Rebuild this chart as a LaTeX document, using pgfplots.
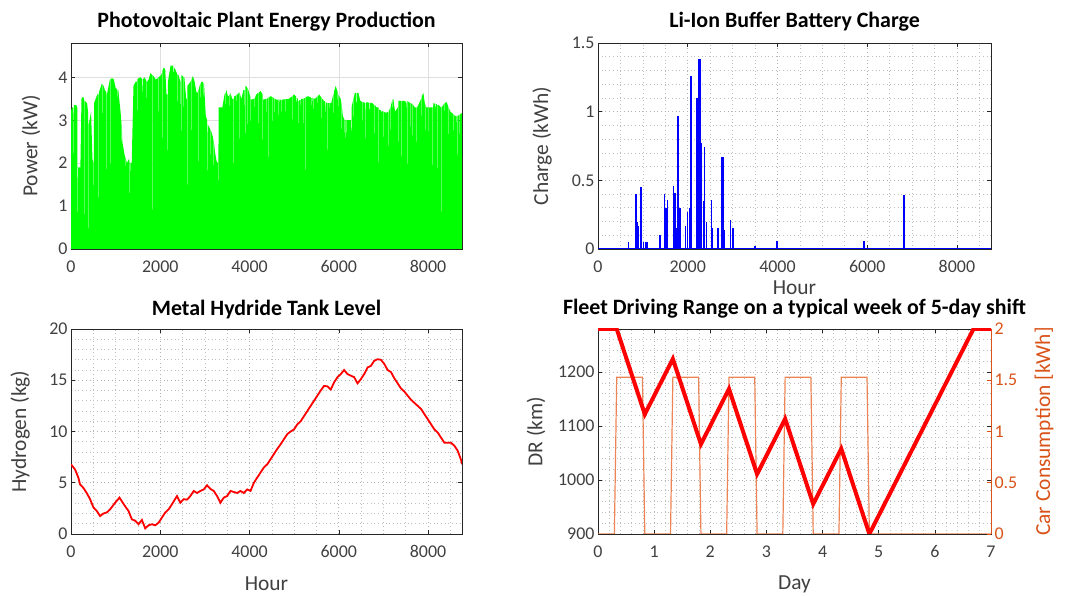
\documentclass[border=0pt]{standalone}
\usepackage{fontspec}
\setmainfont{Carlito}
\usepackage{pgfplots}
\pgfplotsset{compat=1.18}

\definecolor{axgray}{HTML}{262626}
\definecolor{txtgray}{HTML}{404040}
\definecolor{mlorange}{HTML}{D95319}
\definecolor{pulseorange}{HTML}{EC8455}
\definecolor{pvgreen}{HTML}{00FF00}

\pgfplotsset{
  matfig/.style={
    scale only axis,
    width=391bp, height=206bp,
    axis line style={axgray, line width=0.9bp},
    tick style={axgray, line width=0.6bp},
    major tick length=4bp,
    minor tick length=0pt,
    tick align=inside,
    ticklabel style={font=\fontsize{18}{20}\selectfont, text=txtgray},
    xticklabel shift=8bp,
    label style={font=\fontsize{21.5}{23}\selectfont, text=txtgray},
    title style={font=\bfseries\fontsize{22}{24}\selectfont, text=black, anchor=center},
    /pgf/number format/assume math mode=true,
    /pgf/number format/1000 sep={},
    scaled ticks=false,
  },
  dotgrid/.style={
    grid=both,
    major grid style={gray!60, line width=0.7bp, dash pattern=on 0.7bp off 3bp},
    minor grid style={gray!50, line width=0.7bp, dash pattern=on 0.7bp off 3bp},
  },
}

\begin{document}
\begin{tikzpicture}
\useasboundingbox (0,0) rectangle (1068bp,596bp);

% ---- PV production
\begin{axis}[matfig, at={(71bp,347bp)}, anchor=south west,
  xmin=0, xmax=8760, ymin=0, ymax=4.8,
  xtick={0,2000,...,8000}, ytick={0,1,2,3,4},
  grid=major, major grid style={gray!25, line width=0.6bp},
  ylabel={Power (kW)},
  ylabel style={at={(axis description cs:-0.102,0.5)}, anchor=center},
  title={Photovoltaic Plant Energy Production},
  title style={at={(axis description cs:0.5,1.075)}}]
\addplot[draw=none, fill=pvgreen] coordinates {
(0,3.22) (30,3.3) (48,3.3) (52,1.5) (58,1.5) (62,3.35) (120,3.35) (140,3.3) (146,0.7) (152,0.7) (158,1.9) (210,1.9)
(235,3.5) (270,3.55) (292,3.5) (296,0.5) (302,0.5) (306,3.45) (360,3.4) (382,3.2) (386,0.45) (392,0.45) (396,2.9)
(450,3.2) (480,2.1) (502,2.0) (506,1.0) (512,1.0) (516,3.4) (590,3.6) (612,3.6) (616,1.2) (622,1.2) (626,3.65)
(690,3.85) (694,2.4) (698,2.4) (702,3.85) (730,3.8) (760,3.7) (792,3.65) (796,1.5) (802,1.5) (806,3.6) (870,3.95)
(874,1.0) (878,1.0) (882,3.95) (920,3.98) (960,3.95) (1000,3.75) (1036,3.72) (1040,2.6) (1044,2.6) (1048,3.72)
(1060,3.7) (1110,3.2) (1126,3.0) (1130,1.4) (1134,1.4) (1138,2.9) (1150,2.5) (1200,2.2) (1226,2.1) (1230,1.1)
(1234,1.1) (1238,2.1) (1250,2.0) (1300,2.1) (1314,2.0) (1318,0.75) (1324,0.75) (1328,2.0) (1360,2.0) (1400,3.8)
(1450,3.9) (1476,3.9) (1480,2.9) (1484,2.9) (1488,3.95) (1500,3.97) (1560,4.0) (1596,3.95) (1600,1.8) (1604,1.8)
(1608,3.95) (1650,4.0) (1696,3.9) (1700,2.5) (1704,2.5) (1708,3.9) (1740,3.95) (1780,4.1) (1822,4.05) (1826,0.85)
(1832,0.85) (1836,4.05) (1900,3.95) (1946,3.98) (1950,3.0) (1954,3.0) (1958,4.0) (2020,4.05) (2036,4.1) (2040,1.9)
(2044,1.9) (2048,4.15) (2070,4.22) (2110,4.2) (2140,3.6) (2158,3.6) (2162,2.3) (2168,2.3) (2172,3.9) (2230,4.27)
(2280,4.27) (2296,4.24) (2300,3.2) (2304,3.2) (2308,4.22) (2330,4.2) (2370,4.1) (2376,4.08) (2380,2.8) (2384,2.8)
(2388,4.07) (2410,4.05) (2450,3.9) (2458,3.9) (2462,1.4) (2468,1.4) (2472,4.05) (2516,4.02) (2520,2.6) (2524,2.6)
(2528,4.0) (2540,4.0) (2580,3.5) (2594,3.5) (2598,1.2) (2604,1.2) (2608,3.8) (2680,3.9) (2696,3.95) (2700,2.2)
(2704,2.2) (2708,3.97) (2730,4.03) (2770,3.9) (2810,3.65) (2842,3.65) (2846,1.7) (2852,1.7) (2856,3.7) (2896,3.85)
(2900,2.6) (2904,2.6) (2908,3.88) (2940,3.9) (2956,3.88) (2960,3.0) (2964,3.0) (2968,3.87) (2980,3.85) (3020,3.1)
(3052,3.0) (3056,1.0) (3062,1.0) (3066,2.9) (3116,2.8) (3120,1.9) (3124,1.9) (3128,2.78) (3140,2.75) (3180,2.6)
(3196,2.5) (3200,1.5) (3204,1.5) (3208,2.45) (3220,2.3) (3260,2.05) (3292,2.0) (3296,0.85) (3302,0.85) (3306,3.3)
(3390,3.3) (3440,3.6) (3466,3.65) (3470,2.6) (3474,2.6) (3478,3.7) (3480,3.7) (3520,3.55) (3556,3.6) (3560,1.9)
(3564,1.9) (3568,3.65) (3570,3.65) (3610,3.5) (3642,3.5) (3646,2.0) (3652,2.0) (3656,3.55) (3696,3.58) (3700,2.8)
(3704,2.8) (3708,3.6) (3730,3.6) (3770,3.65) (3776,3.62) (3780,1.2) (3784,1.2) (3788,3.6) (3820,3.5) (3860,3.7)
(3892,3.7) (3896,1.7) (3902,1.7) (3906,3.8) (3946,3.77) (3950,2.5) (3954,2.5) (3958,3.75) (3960,3.75) (4016,3.55)
(4020,1.1) (4024,1.1) (4028,3.5) (4040,3.48) (4100,3.5) (4116,3.52) (4120,2.4) (4124,2.4) (4128,3.55) (4150,3.6)
(4196,3.64) (4200,1.9) (4204,1.9) (4208,3.65) (4250,3.68) (4292,3.6) (4296,2.55) (4302,2.55) (4306,3.48) (4376,3.5)
(4380,3.0) (4384,3.0) (4388,3.5) (4416,3.52) (4420,1.8) (4424,1.8) (4428,3.53) (4470,3.56) (4516,3.54) (4520,2.6)
(4524,2.6) (4528,3.53) (4556,3.5) (4560,3.1) (4564,3.1) (4568,3.5) (4600,3.48) (4652,3.48) (4656,2.9) (4662,2.9)
(4666,3.48) (4716,3.48) (4720,2.0) (4724,2.0) (4728,3.48) (4796,3.49) (4800,3.0) (4804,3.0) (4808,3.49) (4880,3.5)
(4946,3.55) (4950,1.6) (4954,1.6) (4958,3.56) (5000,3.6) (5046,3.55) (5050,2.6) (5054,2.6) (5058,3.52) (5082,3.5)
(5086,2.9) (5092,2.9) (5096,3.45) (5146,3.48) (5150,3.1) (5154,3.1) (5158,3.5) (5196,3.5) (5200,2.2) (5204,2.2)
(5208,3.5) (5256,3.53) (5260,1.3) (5264,1.3) (5268,3.54) (5310,3.56) (5376,3.53) (5380,2.8) (5384,2.8) (5388,3.52)
(5416,3.52) (5420,1.9) (5424,1.9) (5428,3.51) (5470,3.5) (5516,3.55) (5520,3.0) (5524,3.0) (5528,3.56) (5560,3.6)
(5616,3.52) (5620,2.5) (5624,2.5) (5628,3.5) (5670,3.45) (5696,3.43) (5700,1.8) (5704,1.8) (5708,3.42) (5742,3.4)
(5746,2.24) (5752,2.24) (5756,3.4) (5796,3.4) (5800,3.0) (5804,3.0) (5808,3.4) (5830,3.4) (5876,3.6) (5880,2.2)
(5884,2.2) (5888,3.65) (5930,3.8) (5976,3.65) (5980,1.4) (5984,1.4) (5988,3.6) (6040,3.5) (6046,3.48) (6050,2.6)
(6054,2.6) (6058,3.45) (6090,3.1) (6132,3.0) (6136,2.0) (6142,2.0) (6146,3.0) (6176,3.0) (6180,2.4) (6184,2.4)
(6188,3.0) (6200,3.0) (6272,3.0) (6276,2.16) (6282,2.16) (6286,3.3) (6316,3.45) (6320,2.7) (6324,2.7) (6328,3.5)
(6360,3.64) (6396,3.64) (6400,1.5) (6404,1.5) (6408,3.64) (6440,3.64) (6480,3.45) (6516,3.43) (6520,2.8) (6524,2.8)
(6528,3.43) (6592,3.4) (6596,2.0) (6602,2.0) (6606,3.42) (6676,3.41) (6680,1.9) (6684,1.9) (6688,3.41) (6750,3.4)
(6796,3.35) (6800,2.4) (6804,2.4) (6808,3.35) (6850,3.3) (6892,3.3) (6896,1.5) (6902,1.5) (6906,3.25) (6956,3.22)
(6960,2.9) (6964,2.9) (6968,3.22) (6996,3.2) (7000,1.1) (7004,1.1) (7008,3.2) (7060,3.17) (7102,3.2) (7106,2.0)
(7112,2.0) (7116,3.2) (7156,3.3) (7160,2.3) (7164,2.3) (7168,3.35) (7196,3.45) (7200,3.0) (7204,3.0) (7208,3.48)
(7221,3.5) (7260,3.2) (7322,3.3) (7326,2.5) (7332,2.5) (7336,3.45) (7396,3.45) (7400,1.7) (7404,1.7) (7408,3.45)
(7480,3.45) (7522,3.4) (7526,1.2) (7532,1.2) (7536,3.45) (7596,3.4) (7600,2.2) (7604,2.2) (7608,3.4) (7646,3.38)
(7650,1.3) (7654,1.3) (7658,3.37) (7700,3.3) (7742,3.3) (7746,2.5) (7752,2.5) (7756,3.3) (7846,3.5) (7850,2.0)
(7854,2.0) (7858,3.55) (7894,3.64) (7926,3.4) (7930,1.6) (7934,1.6) (7938,3.38) (7960,3.3) (7996,3.3) (8000,2.3)
(8004,2.3) (8008,3.3) (8040,3.3) (8102,3.3) (8106,1.3) (8112,1.3) (8116,3.4) (8166,3.38) (8170,2.7) (8174,2.7)
(8178,3.38) (8196,3.37) (8200,1.0) (8204,1.0) (8208,3.36) (8240,3.35) (8292,3.3) (8296,0.2) (8302,0.2) (8306,3.3)
(8356,3.38) (8360,2.5) (8364,2.5) (8368,3.4) (8420,3.42) (8456,3.3) (8460,1.7) (8464,1.7) (8468,3.28) (8500,3.2)
(8556,3.15) (8560,2.5) (8564,2.5) (8568,3.14) (8600,3.1) (8642,3.1) (8646,1.6) (8652,1.6) (8656,3.1) (8696,3.12)
(8700,2.4) (8704,2.4) (8708,3.13) (8760,3.17)
} \closedcycle;
\end{axis}

% ---- Li-ion battery
\begin{axis}[matfig, dotgrid, at={(598bp,347bp)}, anchor=south west, width=393bp,
  xmin=0, xmax=8760, ymin=0, ymax=1.5,
  xtick={0,2000,...,8000}, ytick={0,0.5,1,1.5},
  minor xtick={500,1000,...,8500}, minor ytick={0.1,0.2,...,1.4},
  xlabel={Hour}, ylabel={Charge (kWh)},
  xlabel style={at={(axis description cs:0.5,-0.187)}, anchor=center},
  ylabel style={at={(axis description cs:-0.142,0.5)}, anchor=center},
  title={Li-Ion Buffer Battery Charge},
  title style={at={(axis description cs:0.5,1.075)}}]
\addplot[blue, line width=1.6bp] coordinates {(0,0) (8760,0)};
\addplot[ycomb, blue, line width=1.6bp] coordinates {
(681,0.05) (852,0.40) (870,0.2) (890,0.17) (955,0.45) (1015,0.05) (1060,0.05) (1090,0.05)
(1385,0.1) (1481,0.4) (1510,0.3) (1548,0.36) (1681,0.46) (1718,0.41) (1750,0.15) (1785,0.97)
(1830,0.3) (1948,0.17) (1992,0.27) (2052,0.3) (2074,1.26) (2200,1.1) (2237,1.38) (2250,1.38)
(2262,1.38) (2274,1.38) (2311,0.77) (2348,0.35) (2378,0.74) (2422,0.2) (2533,0.36) (2550,0.15)
(2681,0.15) (2763,0.67) (2790,0.67) (2815,0.14) (2955,0.21) (3015,0.15) (3496,0.02) (3985,0.06)
(5926,0.06) (6815,0.39)
};
\end{axis}

% ---- Metal hydride tank
\begin{axis}[matfig, dotgrid, at={(71bp,62bp)}, anchor=south west, height=205bp,
  xmin=0, xmax=8760, ymin=0, ymax=20,
  xtick={0,2000,...,8000}, ytick={0,5,...,20},
  minor xtick={500,1000,...,8500}, minor ytick={1,2,...,19},
  xlabel={Hour}, ylabel={Hydrogen (kg)},
  xlabel style={at={(axis description cs:0.5,-0.244)}, anchor=center},
  ylabel style={at={(axis description cs:-0.13,0.5)}, anchor=center},
  title={Metal Hydride Tank Level},
  title style={at={(axis description cs:0.5,1.065)}}]
\addplot[red, line width=1.8bp] coordinates {
(0,6.8) (90,6.3) (165,5.5) (202,4.85) (277,4.5) (352,4.0) (427,3.4) (502,2.6) (577,2.25) (652,1.75)
(727,2.0) (801,2.1) (876,2.4) (989,3.05) (1086,3.55) (1138,3.2) (1213,2.7) (1288,2.25) (1363,1.43)
(1438,1.3) (1513,0.95) (1588,1.37) (1663,0.55) (1738,0.85) (1813,0.95) (1887,0.85) (1962,1.1) (2037,1.6)
(2112,2.1) (2187,2.4) (2262,2.9) (2374,3.7) (2449,3.05) (2524,3.4) (2599,3.35) (2674,3.7) (2749,4.2)
(2824,4.0) (2899,4.2) (2974,4.35) (3048,4.75) (3123,4.4) (3198,4.2) (3273,3.7) (3348,3.05) (3423,3.55)
(3498,3.7) (3573,4.2) (3648,4.1) (3723,4.0) (3797,4.2) (3872,4.0) (3947,4.35) (4022,4.2) (4097,5.0)
(4172,5.5) (4247,6.0) (4322,6.5) (4397,6.8) (4472,7.3) (4546,7.8) (4621,8.3) (4696,8.75) (4771,9.25)
(4846,9.75) (4921,10.0) (4996,10.2) (5071,10.7) (5146,11.0) (5221,11.5) (5295,12.0) (5370,12.5) (5445,13.0)
(5520,13.5) (5595,14.0) (5670,14.45) (5745,14.4) (5820,14.1) (5895,14.8) (5970,15.3) (6044,15.6) (6119,16.0)
(6194,15.6) (6269,15.45) (6344,15.3) (6419,14.7) (6494,15.1) (6569,15.6) (6644,16.25) (6719,16.4) (6793,16.9)
(6868,17.05) (6943,17.0) (7018,16.6) (7093,16.0) (7168,15.8) (7243,15.2) (7318,14.7) (7393,14.2) (7468,13.9)
(7542,13.5) (7617,13.1) (7692,12.8) (7767,12.5) (7842,12.2) (7917,11.7) (7992,11.2) (8067,10.7) (8142,10.2)
(8216,9.9) (8291,9.4) (8366,8.9) (8441,8.9) (8516,8.9) (8591,8.6) (8666,8.1) (8741,7.2) (8760,6.8)
};
\end{axis}

% ---- Fleet driving range: left axis with grid
\begin{axis}[matfig, dotgrid, at={(598bp,62bp)}, anchor=south west, width=393bp, height=205bp,
  xmin=0, xmax=7, ymin=900, ymax=1280,
  xtick={0,1,...,7}, ytick={900,1000,1100,1200},
  minor xtick={0.2,0.4,...,6.8}, minor ytick={920,940,...,1260},
  xlabel={Day}, ylabel={DR (km)},
  xlabel style={at={(axis description cs:0.5,-0.244)}, anchor=center},
  ylabel style={at={(axis description cs:-0.158,0.5)}, anchor=center},
  title={Fleet Driving Range on a typical week of 5-day shift},
  title style={at={(axis description cs:0.5,1.07)}}]
\end{axis}
% right axis: car consumption
\begin{axis}[matfig, at={(598bp,62bp)}, anchor=south west, width=393bp, height=205bp,
  xmin=0, xmax=7, ymin=0, ymax=2,
  axis x line=none, axis y line*=right,
  ytick={0,0.5,1,1.5,2},
  yticklabel style={text=mlorange},
  y axis line style={mlorange},
  ytick style={mlorange},
  ylabel={Car Consumption [kWh]},
  ylabel style={text=mlorange, at={(axis description cs:1.135,0.5)}, anchor=center}]
\addplot[pulseorange, line width=1.2bp] coordinates {
(0,0) (0.2917,0) (0.3333,1.53) (0.7917,1.53) (0.8333,0)
(1.2917,0) (1.3333,1.53) (1.7917,1.53) (1.8333,0)
(2.2917,0) (2.3333,1.53) (2.7917,1.53) (2.8333,0)
(3.2917,0) (3.3333,1.53) (3.7917,1.53) (3.8333,0)
(4.2917,0) (4.3333,1.53) (4.7917,1.53) (4.8333,0) (7,0)
};
\end{axis}
% driving range line on top
\begin{axis}[matfig, at={(598bp,62bp)}, anchor=south west, width=393bp, height=205bp,
  xmin=0, xmax=7, ymin=900, ymax=1280, hide axis]
\addplot[red, line width=4bp] coordinates {
(0,1280) (0.3333,1280) (0.8333,1122) (1.3333,1224.5) (1.8333,1066.5) (2.3333,1169)
(2.8333,1011) (3.3333,1113.5) (3.8333,955.5) (4.3333,1058) (4.8333,900) (6.687,1280) (7,1280)
};
\end{axis}
\end{tikzpicture}
\end{document}
